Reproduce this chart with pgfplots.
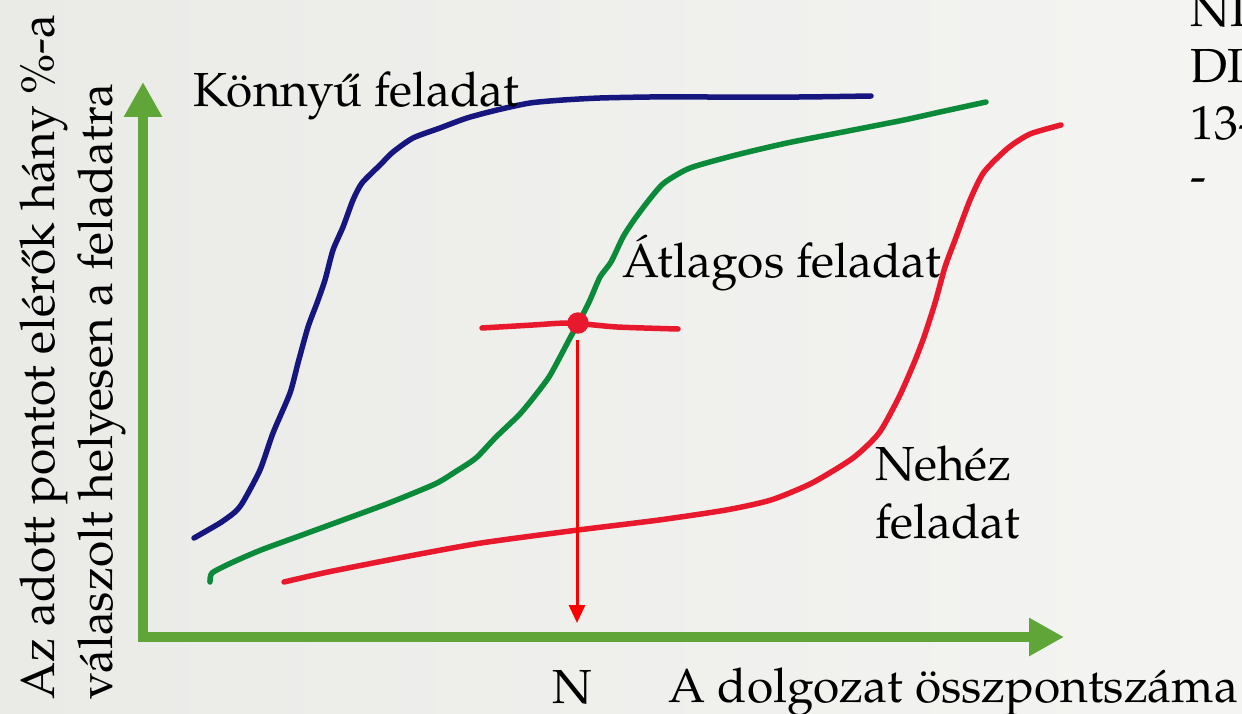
\documentclass[border=0pt]{standalone}
\usepackage{fontspec}
\setmainfont{TeX Gyre Pagella}
\usepackage{pgfplots}
\pgfplotsset{compat=1.18}
\usetikzlibrary{arrows.meta}
\definecolor{bgL}{HTML}{EAEAE7}
\definecolor{bgR}{HTML}{F4F4F2}
\definecolor{cblue}{HTML}{16167F}
\definecolor{cgreen}{HTML}{0B8A3A}
\definecolor{cred}{HTML}{E8192C}
\definecolor{caxis}{HTML}{60A537}
\newcommand{\tf}{\fontsize{13.6}{16}\selectfont}
\begin{document}
\begin{tikzpicture}
\shade[left color=bgL, right color=bgR] (0,0) rectangle (12.42cm,7.13cm);
\begin{axis}[
  at={(0,0)}, anchor=south west,
  width=12.42cm, height=7.13cm, scale only axis,
  xmin=0, xmax=1242, ymin=0, ymax=713, y dir=reverse,
  axis lines=none, clip=false,
]
% green axes
\addplot[caxis, line width=0.95mm, line join=miter, {Triangle[width=3.6mm,length=3.5mm]}-{Triangle[width=3.6mm,length=3.5mm]}]
  coordinates {(143,82) (143,637) (1064,637)};
% easy task (blue)
\addplot[cblue, line width=0.55mm, line cap=round, smooth, tension=0.4] coordinates {
(194,538)(220,523)(235,512)(243,502)(260,470)(273,433)(290,393)(298,363)(308,327)(317,303)(325,280)(333,250)(343,227)(353,200)(362,183)(380,165)(393,152)(413,138)(440,128)(467,118)(497,110)(530,103)(563,100)(600,98)(650,97)(700,97)(800,97)(871,96)};
% average task (green)
\addplot[cgreen, line width=0.55mm, line cap=round, smooth, tension=0.4] coordinates {
(210,582)(212,573)(231,563)(261,550)(302,535)(343,520)(389,503)(435,484)(455,472)(476,458)(496,437)(519,415)(534,397)(549,377)(560,357)(570,338)(580,320)(590,300)(600,277)(611,262)(623,237)(634,220)(649,200)(664,183)(690,168)(736,155)(787,143)(843,132)(904,120)(940,112)(986,102)};
% hard task (red)
\addplot[cred, line width=0.55mm, line cap=round, smooth, tension=0.4] coordinates {
(284,582)(328,572)(404,557)(481,543)(578,530)(659,520)(726,510)(771,500)(812,483)(853,458)(879,433)(899,397)(914,363)(924,337)(935,303)(945,267)(955,240)(970,200)(984,172)(1008,148)(1030,134)(1061,125)};
% crosshair
\addplot[cred, line width=0.55mm, line cap=round, smooth, tension=0.4] coordinates {
(482,328)(533,325)(570,323)(617,327)(678,329)};
\addplot[cred, only marks, mark=*, mark size=1mm, mark options={fill=cred, draw=cred}] coordinates {(578,323)};
\addplot[red, line width=0.3mm, -{Triangle[width=1.6mm,length=1.8mm]}] coordinates {(577,340)(577,623)};
% texts
\node[anchor=base west, inner sep=0] at (axis cs:193,107) {\tf Könnyű feladat};
\node[anchor=base west, inner sep=0] at (axis cs:622,277) {\tf Átlagos feladat};
\node[anchor=base west, inner sep=0] at (axis cs:875,480) {\tf Nehéz};
\node[anchor=base west, inner sep=0] at (axis cs:875,538) {\tf feladat};
\node[anchor=base, inner sep=0] at (axis cs:572,703) {\tf N};
\node[anchor=base west, inner sep=0] at (axis cs:668,702) {\tf A dolgozat összpontszáma};
\node[anchor=base west, inner sep=0, rotate=90] at (axis cs:54,700) {\tf Az adott pontot elérők hány \%-a};
\node[anchor=base west, inner sep=0, rotate=90] at (axis cs:112,700) {\tf válaszolt helyesen a feladatra};
\node[anchor=base west, inner sep=0] at (axis cs:1190,27) {\tf NI};
\node[anchor=base west, inner sep=0] at (axis cs:1190,83) {\tf DI};
\node[anchor=base west, inner sep=0] at (axis cs:1190,140) {\tf 13-};
\node[anchor=base west, inner sep=0] at (axis cs:1190,193) {\tf -};
\end{axis}
\pgfresetboundingbox
\useasboundingbox (0,0) rectangle (12.42cm,7.13cm);
\end{tikzpicture}
\end{document}
